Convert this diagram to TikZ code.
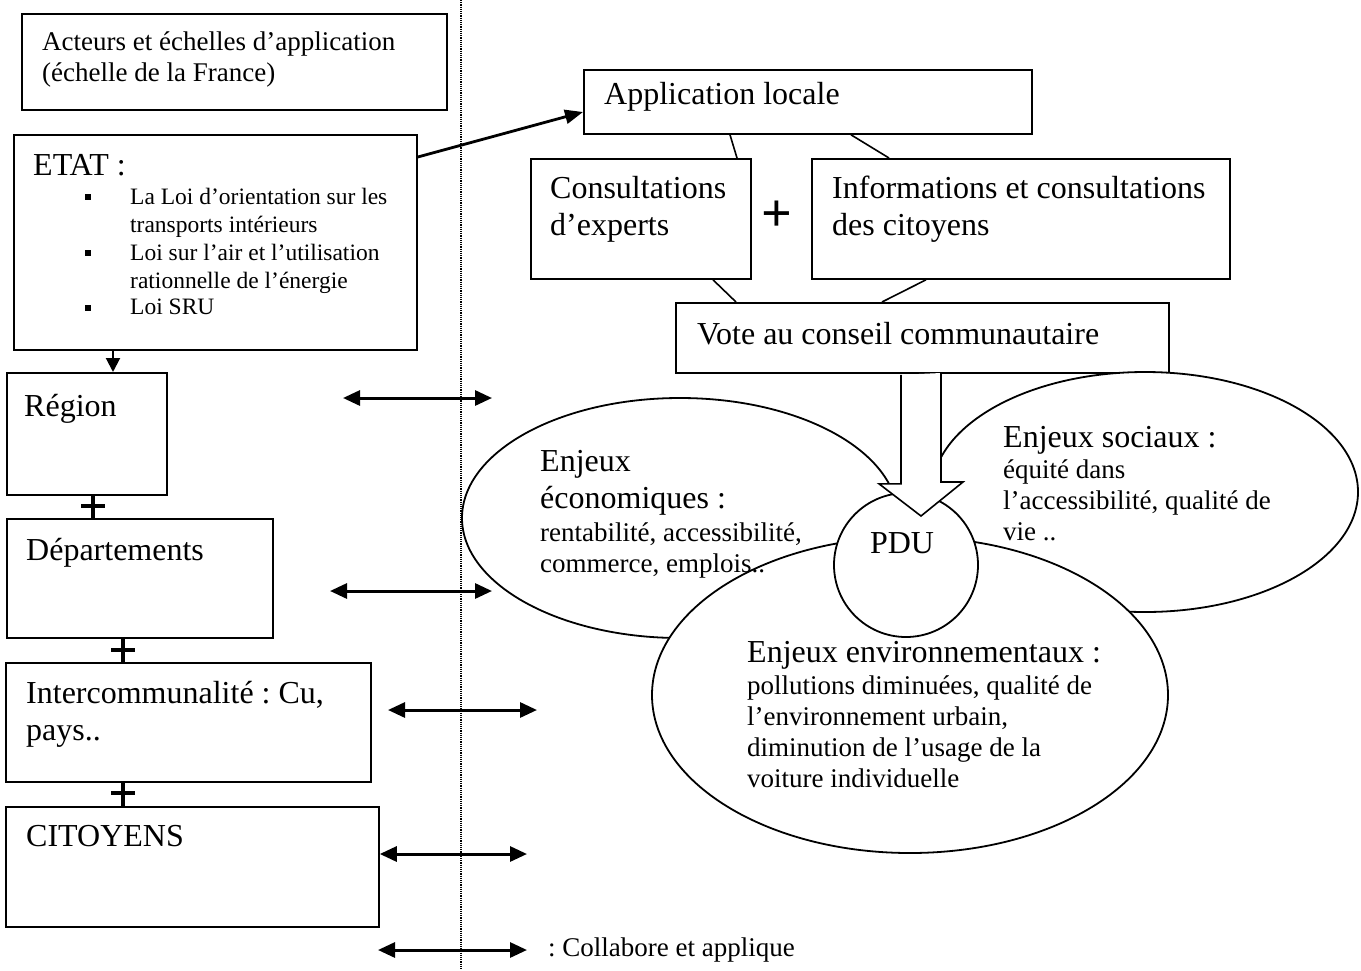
\documentclass[tikz,border=0pt]{standalone}
\usepackage{fontspec}
\setmainfont{Liberation Serif}
\usetikzlibrary{shapes.geometric,arrows.meta,positioning,calc}
\frenchspacing

\newcommand{\grandtxt}{\fontsize{32}{37}\selectfont}
\newcommand{\moyentxt}{\fontsize{27}{31}\selectfont}
\newcommand{\petittxt}{\fontsize{23.5}{28}\selectfont}

\begin{document}
\begin{tikzpicture}[x=1pt, y=-1pt,
    boite/.style={rectangle, draw, line width=1.8pt, anchor=north west, inner sep=0pt},
    bulle/.style={ellipse, draw, line width=1.8pt, fill=white, inner sep=0pt},
    titre/.style={anchor=north west, inner sep=0pt, align=left, font=\grandtxt},
    corps/.style={anchor=north west, inner sep=0pt, align=left, font=\moyentxt},
    puce/.style={anchor=north west, inner sep=0pt, align=left, font=\petittxt},
    carre/.style={rectangle, fill=black, minimum size=6pt, inner sep=0pt},
    fleche/.style={{Triangle[length=17pt,width=15pt]}-{Triangle[length=17pt,width=15pt]}, line width=3pt},
    croix/.style={line width=3.8pt},
    lien/.style={line width=1.6pt}
]
    \useasboundingbox (0,0) rectangle (1361,970);

    % separation
    \draw[densely dotted, line width=1.2pt] (461,0) -- (461,970);

    % Acteurs (gauche)
    \node[boite, minimum width=425, minimum height=96] (cadre) at (21,13) {};
    \node[corps] (cadretxt) at (42,32) {Acteurs et échelles d’application\\(échelle de la France)};

    \node[boite, minimum width=403, minimum height=215] (etat) at (13,134) {};
    \node[titre] (etattxt) at (33,154) {ETAT :};
    \node[puce] (loi1) at (130,188) {La Loi d’orientation sur les\\transports intérieurs};
    \node[puce] (loi2) at (130,244) {Loi sur l’air et l’utilisation\\rationnelle de l’énergie};
    \node[puce] (loi3) at (130,299) {Loi SRU};
    \node[carre] (b1) at (88,197) {};
    \node[carre] (b2) at (88,253) {};
    \node[carre] (b3) at (88,308) {};

    \node[boite, minimum width=160, minimum height=122] (region) at (6,372) {};
    \node[titre] (regiontxt) at (24,394) {Région};

    \node[boite, minimum width=266, minimum height=119] (dept) at (6,518) {};
    \node[titre] (depttxt) at (26,538) {Départements};

    \node[boite, minimum width=365, minimum height=119] (interco) at (5,662) {};
    \node[titre] (intercotxt) at (26,681) {Intercommunalité : Cu,\\pays..};

    \node[boite, minimum width=373, minimum height=120] (citoyens) at (5,806) {};
    \node[titre] (citoyenstxt) at (26,825) {CITOYENS};

    % liens verticaux
    \draw[-{Triangle[length=14pt,width=14pt]}, line width=2pt]
        ($(etat.south west)+(100,0)$) -- ($(region.north west)+(107,0)$);
    \coordinate (c1) at (93,506);
    \coordinate (c2) at (123,650);
    \coordinate (c3) at (123,793);
    \draw[croix] (c1 |- region.south) -- (c1 |- dept.north);
    \draw[croix] ($(c1)+(-12,0)$) -- ($(c1)+(12,0)$);
    \draw[croix] (c2 |- dept.south) -- (c2 |- interco.north);
    \draw[croix] ($(c2)+(-12,0)$) -- ($(c2)+(12,0)$);
    \draw[croix] (c3 |- interco.south) -- (c3 |- citoyens.north);
    \draw[croix] ($(c3)+(-12,0)$) -- ($(c3)+(12,0)$);

    % collaborations
    \coordinate (r1) at (343,398);  \coordinate (r2) at (492,398);
    \coordinate (d1) at (330,591);  \coordinate (d2) at (492,591);
    \coordinate (i1) at (388,710);  \coordinate (i2) at (537,710);
    \coordinate (v2) at (527,854);
    \draw[fleche] (r1) -- (r2);
    \draw[fleche] (d1) -- (d2);
    \draw[fleche] (i1) -- (i2);
    \draw[fleche] (citoyens.east |- v2) -- (v2);

    % legende
    \coordinate (l1) at (378,950);  \coordinate (l2) at (527,950);
    \draw[fleche] (l1) -- (l2);
    \node[font=\moyentxt, anchor=west, inner sep=0pt, right=21pt of l2] (legende) {: Collabore et applique};

    % Application locale (droite)
    \node[boite, minimum width=448, minimum height=64] (appli) at (583,69) {};
    \node[titre] (applitxt) at (604,82) {Application locale};
    \draw[-{Triangle[length=18pt,width=14pt]}, line width=2.8pt]
        ($(etat.north east)+(0,23)$) -- ($(appli.north west)+(0,43)$);

    \node[boite, minimum width=220, minimum height=120] (experts) at (530,158) {};
    \node[titre] (expertstxt) at (550,176) {Consultations\\d’experts};
    \node[boite, minimum width=418, minimum height=120] (infos) at (811,158) {};
    \node[titre] (infostxt) at (832,176) {Informations et consultations\\des citoyens};
    \node[font=\fontsize{54}{54}\selectfont\bfseries, inner sep=0pt] (plus) at (777,216) {+};

    \node[boite, minimum width=493, minimum height=70] (vote) at (675,302) {};
    \node[titre] (votetxt) at (697,322) {Vote au conseil communautaire};

    \draw[lien] ($(appli.south west)+(147,0)$) -- ($(experts.north west)+(207,0)$);
    \draw[lien] ($(appli.south west)+(268,0)$) -- ($(infos.north west)+(78,0)$);
    \draw[lien] ($(experts.south west)+(183,0)$) -- ($(vote.north west)+(61,0)$);
    \draw[lien] ($(infos.south west)+(115,0)$) -- ($(vote.north west)+(207,0)$);

    % Enjeux
    \node[bulle, minimum width=436, minimum height=240] (eco) at (680,518) {};
    \node[bulle, minimum width=426, minimum height=240] (social) at (1145,492) {};
    \node[bulle, minimum width=516, minimum height=316] (envir) at (910,695) {};
    \node[bulle, circle, minimum size=144] (pdu) at (906,565) {};
    \node[font=\grandtxt, inner sep=0pt] (pdutxt) at (902,543) {PDU};

    \coordinate (pointe) at (921,516);
    \draw[lien, fill=white] ($(vote.south west)+(226,1)$) -- ++(0,109) -- ++(-22,0)
        -- (pointe) -- ++(42,-34) -- ++(-22,0) -- ++(0,-109);

    \node[titre] (ecotxt) at (540,450) {Enjeux\\économiques :};
    \node[corps] (ecocorps) at (540,523) {rentabilité, accessibilité,\\commerce, emplois..};
    \node[titre] (socialtxt) at (1003,426) {Enjeux sociaux :};
    \node[corps] (socialcorps) at (1003,460) {équité dans\\l’accessibilité, qualité de\\vie ..};
    \node[titre] (envirtxt) at (747,641) {Enjeux environnementaux :};
    \node[corps] (envircorps) at (747,676) {pollutions diminuées, qualité de\\l’environnement urbain,\\diminution de l’usage de la\\voiture individuelle};

\end{tikzpicture}
\end{document}
